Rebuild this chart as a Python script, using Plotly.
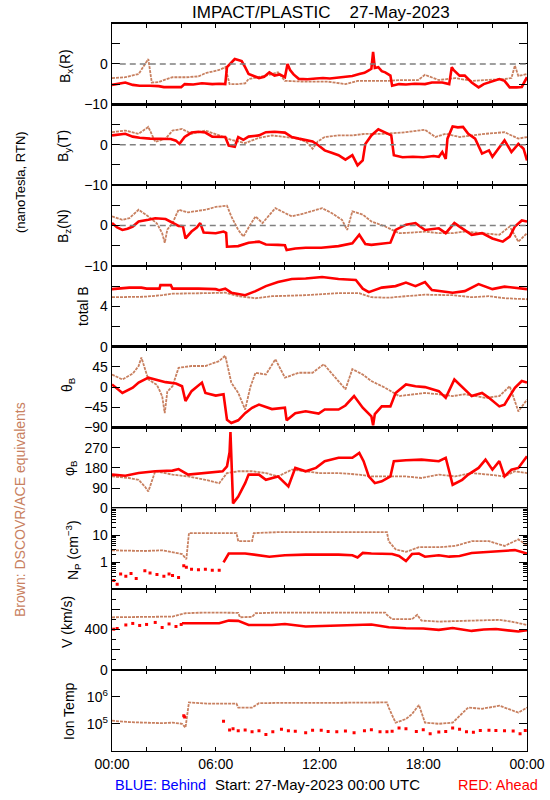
import plotly.graph_objects as go

# ---------------- data (hours since 27-May-2023 00:00 UTC, value) ----------------
BX_RED = [(0, -5.2), (0.4, -4.8), (0.77, -4.6), (1.2, -5.2), (1.6, -5.4), (2.2, -5.4), (2.7, -5.5), (3.0, -5.75),
          (3.5, -5.8), (4.0, -5.75), (4.2, -5.0), (4.7, -5.1), (5.2, -4.8), (5.8, -5.0), (6.2, -4.9), (6.55, -5.0),
          (6.65, -0.8), (6.9, 0.3), (7.1, 1.2), (7.35, 0.9), (7.5, 0.7), (7.7, -0.8), (7.9, -2.5), (8.2, -3.0),
          (8.5, -3.5), (8.8, -3.2), (9.1, -2.1), (9.4, -2.9), (9.7, -2.6), (10.0, -3.3), (10.15, 0.0), (10.3, -1.5),
          (10.5, -2.6), (10.8, -3.7), (11.3, -3.8), (11.8, -3.6), (12.2, -3.5), (12.6, -3.6), (13.1, -3.4),
          (13.5, -3.3), (13.9, -3.0), (14.3, -2.5), (14.6, -2.2), (14.8, -1.7), (15.0, -1.2), (15.1, 3.0),
          (15.2, -1.0), (15.4, -0.8), (15.6, -1.8), (15.8, -2.1), (16.1, -2.9), (16.2, -5.4), (16.6, -5.0),
          (17.0, -5.1), (17.5, -4.9), (18.1, -5.0), (18.5, -4.6), (19.1, -4.6), (19.5, -5.0), (19.65, -0.8),
          (19.75, -1.5), (20.1, -2.9), (20.4, -2.9), (20.8, -4.6), (21.2, -5.8), (21.5, -5.0), (21.8, -4.6),
          (22.1, -4.3), (22.4, -3.75), (22.7, -4.2), (23.0, -5.8), (23.4, -5.8), (23.7, -5.7), (24.0, -3.3)]
BX_BROWN = [(0, -3.5), (0.77, -3.3), (1.54, -2.5), (1.9, 0.0), (2.1, 1.2), (2.3, -4.6), (2.7, -4.5), (3.0, -4.0),
            (3.5, -3.3), (4.3, -3.3), (5.0, -3.1), (5.4, -2.3), (6.2, -1.5), (6.55, -0.8), (6.8, -5.0), (7.3, -5.0),
            (7.7, -4.8), (7.9, -3.75), (8.9, -2.9), (9.6, -2.1), (10.0, -4.2), (11.2, -4.4), (12.5, -4.4),
            (13.5, -5.0), (14.2, -4.2), (16.0, -4.2), (16.6, -4.0), (17.7, -4.0), (18.1, -2.7), (18.9, -4.0),
            (19.85, -3.5), (20.8, -4.2), (21.8, -4.0), (22.7, -3.75), (23.1, -3.5), (23.3, -0.4), (23.5, -3.0),
            (24.0, -2.5)]

BY_RED = [(0, 2.3), (0.4, 2.6), (0.77, 2.7), (1.2, 2.0), (1.6, 1.7), (2.2, 1.5), (2.8, 1.5), (3.4, 1.4), (3.7, 1.0),
          (3.9, 0.2), (4.2, 1.9), (4.6, 3.0), (5.0, 3.2), (5.4, 3.0), (5.8, 2.0), (6.2, 2.0), (6.55, 1.9),
          (6.75, -0.2), (7.1, -0.5), (7.3, 1.9), (7.6, 1.2), (7.9, 2.0), (8.5, 2.3), (8.9, 3.1), (9.4, 3.2),
          (10.0, 3.0), (10.4, 1.9), (10.8, 1.5), (11.2, 1.1), (11.6, 0.8), (11.95, -0.2), (12.3, -1.4),
          (12.7, -2.0), (13.1, -2.6), (13.5, -3.7), (13.9, -2.6), (14.2, -5.1), (14.5, -3.9), (14.65, 0.2),
          (15.0, 2.3), (15.4, 3.8), (15.8, 3.1), (16.15, 2.3), (16.3, -2.6), (16.8, -3.1), (17.4, -3.0),
          (18.0, -3.1), (18.6, -2.8), (18.9, -3.0), (19.1, -1.8), (19.3, -3.5), (19.4, 1.5), (19.7, 4.5),
          (20.0, 4.3), (20.3, 4.4), (20.6, 2.7), (21.0, 1.5), (21.4, -2.2), (21.8, -1.4), (22.0, -3.0),
          (22.4, -0.6), (22.7, 1.1), (23.1, -1.8), (23.5, 0.2), (23.8, -1.0), (24.0, -3.9)]
BY_BROWN = [(0, 3.1), (0.77, 3.5), (1.54, 2.7), (2.1, 4.4), (2.5, 0.7), (3.1, 1.5), (3.5, 3.5), (4.05, 3.9),
            (4.6, 2.7), (5.4, 3.5), (6.2, 2.3), (6.9, 1.2), (7.7, 0.4), (8.5, 1.7), (9.25, 2.3), (10.0, 1.9),
            (10.8, 1.5), (11.3, 0.5), (11.6, -1.0), (11.9, 0.8), (12.3, 1.9), (13.1, 2.3), (13.9, 2.3),
            (14.65, 2.7), (15.8, 2.7), (17.0, 3.1), (18.1, 3.7), (18.7, 1.9), (19.3, 2.7), (20.1, 1.9),
            (20.8, 2.3), (21.6, 2.7), (22.7, 3.1), (23.5, 1.5), (24.0, 1.9)]

BZ_RED = [(0, 0.6), (0.3, -0.5), (0.6, -1.1), (0.9, -0.8), (1.2, -0.25), (1.54, 1.0), (2.1, 1.4), (2.5, 1.8),
          (3.1, 1.6), (3.5, 0.75), (3.85, -0.1), (4.1, -0.2), (4.25, -3.2), (4.6, -1.5), (4.9, -0.5), (5.1, 0.6),
          (5.3, -1.75), (6.0, -1.9), (6.45, -1.5), (6.6, -1.8), (6.65, -5.25), (7.3, -5.1), (7.9, -4.25),
          (8.5, -4.0), (8.9, -4.7), (9.6, -4.8), (10.0, -4.9), (10.1, -6.1), (10.6, -5.7), (11.2, -5.5),
          (12.1, -5.5), (13.1, -5.1), (13.9, -4.4), (14.3, -2.3), (14.65, -4.6), (15.0, -4.8), (15.6, -4.4),
          (16.1, -4.25), (16.4, -1.1), (17.0, 0.2), (17.55, 0.6), (18.1, -1.1), (18.9, -0.7), (19.3, -1.9),
          (19.8, 0.6), (20.4, -1.1), (20.8, -2.3), (21.4, -1.9), (22.0, -3.2), (22.6, -4.0), (23.0, -2.75),
          (23.3, -0.25), (23.7, 1.25), (24.0, 1.0)]
BZ_BROWN = [(0, 2.25), (0.6, 1.4), (1.0, 1.8), (1.54, 3.9), (2.1, 2.25), (2.6, 0.5), (2.9, -1.9), (3.05, -4.3),
            (3.2, -1.0), (3.5, 0.6), (3.85, 3.9), (4.4, 3.25), (5.4, 3.9), (6.0, 4.6), (6.65, 4.9), (6.9, 2.25),
            (7.3, -1.1), (7.6, -2.75), (7.9, -0.5), (8.3, 2.25), (8.7, 0.6), (9.45, 4.3), (10.0, 3.1),
            (10.4, 2.25), (11.2, 3.1), (12.15, 4.3), (12.7, 3.1), (13.3, 1.4), (13.6, -1.1), (13.9, 3.5),
            (14.5, 2.7), (15.0, 1.0), (15.8, -0.25), (16.6, -1.9), (17.35, -1.75), (18.1, -1.5), (18.9, -1.9),
            (19.7, -1.9), (20.4, -1.5), (21.6, -1.9), (22.4, -2.3), (23.0, -0.25), (23.5, -4.0), (24.0, -1.9)]

BT_RED = [(0, 5.7), (1.0, 5.85), (1.7, 5.85), (2.0, 5.75), (2.75, 5.75), (2.8, 6.1), (3.4, 6.1), (3.5, 5.75),
          (5.0, 5.75), (6.0, 5.7), (6.2, 5.6), (6.55, 5.75), (6.9, 5.35), (7.7, 5.1), (8.3, 5.5), (8.9, 6.0),
          (9.6, 6.4), (10.4, 6.7), (11.2, 6.75), (12.15, 6.9), (13.1, 6.7), (14.1, 6.6), (14.5, 5.75),
          (14.85, 5.4), (15.6, 5.85), (16.4, 6.0), (17.0, 6.35), (17.55, 6.0), (18.1, 6.4), (18.5, 5.6),
          (19.7, 5.35), (20.4, 5.5), (21.2, 6.2), (22.0, 5.7), (22.7, 5.95), (24.0, 5.7)]
BT_BROWN = [(0, 4.9), (1.9, 4.95), (2.9, 5.1), (3.5, 5.25), (5.4, 5.3), (6.55, 5.35), (7.3, 5.0), (8.3, 4.8),
            (9.25, 5.0), (11.2, 5.1), (13.1, 5.3), (14.3, 5.3), (15.0, 4.9), (16.0, 4.85), (17.0, 5.0),
            (18.1, 5.15), (19.7, 5.1), (20.8, 4.9), (21.8, 5.0), (22.7, 4.8), (24.0, 4.7)]

TH_RED = [(0, 6), (0.6, -13), (1.2, -1.5), (1.54, 10), (2.1, 21), (2.5, 17), (3.1, 11), (3.7, 8), (4.05, 2),
          (4.25, -31), (4.6, -9), (5.2, 10), (5.4, -13), (6.0, -19), (6.45, -16), (6.65, -73), (6.9, -80),
          (7.3, -74), (7.7, -58), (8.1, -46), (8.5, -39), (9.25, -49), (10.0, -46), (10.1, -74), (10.6, -58),
          (11.2, -54), (11.95, -59), (12.3, -50), (13.1, -50), (13.5, -41), (14.0, -20), (14.5, -46),
          (14.85, -61), (15.0, -65), (15.1, -85), (15.2, -60), (15.6, -43), (16.1, -43), (16.4, -13), (17.0, 6),
          (17.55, 2), (18.1, 0), (18.9, -9), (19.3, -24), (19.8, 17), (20.4, -5), (20.8, -20), (21.4, -13),
          (21.8, -24), (22.4, -43), (22.7, -39), (23.0, -20), (23.3, -1.5), (23.7, 13.5), (24.0, 10)]
TH_BROWN = [(0, 28), (0.6, 17), (1.2, 30), (1.54, 47), (1.7, 66), (2.1, 17), (2.6, 5), (2.9, -20), (3.05, -58),
            (3.2, -10), (3.5, 2), (3.85, 43), (4.6, 47), (5.4, 47), (6.2, 58), (6.55, 70), (6.9, 10), (7.3, -13),
            (7.7, -50), (8.0, 0), (8.3, 32), (8.9, 28), (9.45, 62), (10.0, 21), (10.8, 32), (11.6, 32),
            (12.25, 51), (13.1, 13.5), (13.5, -5), (13.9, 40), (14.5, 28), (15.0, 13.5), (15.8, -1.5),
            (16.6, -20), (17.35, -16), (18.1, -13), (18.9, -16), (19.7, -20), (20.4, -16), (21.6, -24),
            (22.4, -20), (23.0, 2), (23.5, -54), (24.0, -28)]

PH_RED = [(0, 150), (0.77, 145), (1.54, 157), (2.5, 165), (3.5, 168), (3.85, 175), (4.4, 150), (5.4, 157),
          (6.4, 165), (6.65, 187), (6.8, 250), (6.85, 340), (6.9, 200), (7.0, 22), (7.3, 52), (7.7, 112),
          (7.9, 150), (8.5, 150), (8.9, 127), (9.6, 142), (10.2, 97), (10.6, 180), (11.2, 165), (11.8, 180),
          (12.3, 210), (13.1, 225), (13.9, 225), (14.3, 247), (14.55, 210), (14.85, 142), (15.2, 112),
          (15.6, 120), (16.1, 142), (16.3, 210), (17.0, 214), (17.9, 217), (18.9, 210), (19.3, 225), (19.5, 165),
          (19.7, 105), (20.25, 127), (20.6, 150), (21.2, 180), (21.6, 217), (22.0, 172), (22.4, 210),
          (22.7, 142), (23.1, 172), (23.5, 180), (24.0, 232)]
PH_BROWN = [(0, 142), (0.96, 135), (1.54, 127), (1.9, 97), (2.1, 75), (2.5, 165), (3.5, 150), (4.4, 142),
            (5.4, 127), (6.2, 112), (6.65, 157), (7.3, 165), (8.1, 165), (8.9, 157), (9.6, 142), (10.4, 172),
            (11.2, 165), (11.95, 157), (13.1, 157), (14.3, 150), (15.0, 142), (16.0, 142), (17.0, 142),
            (17.9, 135), (18.9, 150), (19.85, 142), (20.8, 157), (21.8, 150), (22.7, 142), (23.3, 165),
            (24.0, 157)]

NP_RED_DOTS = [(0.1, 0.21), (0.3, 0.15), (0.5, 0.36), (0.8, 0.3), (1.1, 0.38), (1.4, 0.25), (1.9, 0.48),
               (2.2, 0.4), (2.6, 0.35), (3.0, 0.3), (3.3, 0.36), (3.5, 0.32), (3.85, 0.27), (4.15, 0.74),
               (4.3, 0.65), (4.6, 0.55), (5.0, 0.52), (5.4, 0.55), (5.8, 0.5), (6.2, 0.5)]
NP_RED = [(6.45, 0.98), (6.75, 2.1), (7.7, 2.1), (8.5, 1.8), (9.1, 1.6), (10.0, 1.8), (11.2, 1.9), (13.1, 1.9),
          (13.9, 1.8), (14.2, 1.5), (14.5, 2.2), (15.0, 2.1), (16.2, 2.0), (16.6, 1.7), (17.0, 1.1), (17.35, 2.0),
          (17.75, 2.1), (18.1, 1.6), (18.9, 1.8), (19.5, 1.6), (20.1, 1.7), (20.8, 2.2), (21.8, 2.4), (22.7, 2.6),
          (23.3, 2.8), (24.0, 2.1)]
NP_BROWN = [(0, 2.75), (1.9, 2.6), (2.9, 2.75), (3.5, 2.4), (4.05, 2.0), (4.3, 1.3), (4.45, 12), (5.5, 12),
            (7.2, 12), (7.3, 6), (8.1, 6), (8.2, 12), (9.6, 13), (12.0, 13), (14.0, 13), (15.9, 13), (16.0, 6),
            (16.4, 3.0), (17.0, 2.4), (17.75, 3.6), (18.9, 3.6), (19.85, 4.0), (20.8, 6), (21.8, 6), (22.7, 4.0),
            (23.5, 7), (24.0, 4.2)]

V_RED_DOTS = [(0.1, 403), (0.3, 410), (0.8, 445), (1.2, 460), (1.6, 440), (2.0, 450), (2.5, 470), (2.9, 420),
              (3.3, 455), (3.7, 430), (4.0, 450)]
V_RED = [(4.05, 462), (5.4, 458), (6.2, 462), (6.75, 488), (7.3, 485), (7.9, 445), (9.25, 445), (10.0, 455),
         (11.2, 429), (12.15, 435), (13.1, 440), (14.3, 440), (15.0, 450), (16.0, 422), (17.0, 412), (18.0, 410),
         (18.9, 396), (19.7, 415), (20.8, 386), (21.5, 400), (22.2, 405), (23.5, 380), (24.0, 392)]
V_BROWN = [(0, 521), (1.9, 521), (3.5, 528), (4.25, 561), (5.4, 568), (7.3, 565), (7.4, 521), (8.1, 525),
           (8.3, 561), (9.6, 568), (12.0, 568), (15.8, 568), (15.9, 545), (16.2, 502), (17.35, 502), (17.65, 545),
           (17.9, 488), (18.9, 478), (20.8, 488), (22.4, 495), (23.1, 478), (24.0, 445)]

T_RED_DOTS = [(4.15, 2.0e5), (4.2, 1.8e5), (6.45, 1.23e5), (6.8, 5.9e4), (7.0, 6.5e4), (7.3, 5.5e4), (7.7, 5.9e4),
              (8.1, 5.0e4), (8.5, 5.5e4), (8.9, 4.0e4), (9.3, 5.0e4), (9.8, 6.2e4), (10.2, 5.5e4), (10.6, 5.3e4),
              (11.2, 4.6e4), (11.6, 5.7e4), (12.1, 5.8e4), (12.5, 5.2e4), (13.0, 5.1e4), (13.5, 5.4e4),
              (14.0, 4.6e4), (14.6, 5.5e4), (15.0, 6.0e4), (15.5, 5.0e4), (15.9, 5.0e4), (16.2, 5.3e4),
              (16.6, 7.0e4), (17.0, 6.5e4), (17.6, 5.2e4), (18.0, 6.0e4), (18.4, 4.3e4), (18.9, 4.9e4),
              (19.3, 5.2e4), (19.7, 7.0e4), (20.1, 6.2e4), (20.5, 5.0e4), (20.9, 4.8e4), (21.3, 5.6e4),
              (21.8, 5.8e4), (22.2, 5.6e4), (22.7, 5.5e4), (23.2, 5.4e4), (23.6, 4.3e4), (23.9, 5.6e4)]
T_BROWN = [(0, 1.3e5), (1.0, 1.15e5), (1.9, 1.1e5), (2.9, 1.05e5), (3.5, 1.1e5), (4.05, 1.0e5), (4.25, 7.2e4),
           (4.45, 6.2e5), (5.5, 5.6e5), (7.2, 5.6e5), (7.3, 4.0e5), (8.1, 4.0e5), (8.5, 5.8e5), (10.0, 6.0e5),
           (13.0, 6.0e5), (15.9, 6.2e5), (16.0, 4.0e5), (16.4, 1.1e5), (17.0, 1.5e5), (17.35, 2.3e5),
           (17.75, 5.0e5), (18.1, 1.1e5), (18.9, 1.0e5), (19.7, 1.1e5), (20.6, 4.0e5), (21.4, 3.6e5),
           (22.4, 4.7e5), (23.5, 2.6e5), (24.0, 4.0e5)]

X_TICKS = [0, 6, 12, 18, 24]
X_LABELS = ["00:00", "06:00", "12:00", "18:00", "00:00"]
X_MINOR = [2, 4, 8, 10, 14, 16, 20, 22]

# ---------------- style ----------------
W, H = 550, 800
RED = "#FF0000"
BROWN = "rgb(200,128,96)"
FONT = "Liberation Sans, Arial, sans-serif"
PL, PR = 112, 527
TOP0, PHT = 23.5, 80.8


def px(x):
    return x / W


def py(y):
    return 1 - y / H


LOGMINOR_NP = [a * b for b in (0.1, 1, 10) for a in range(2, 10)]

panels = [
    dict(red=BX_RED, brown=BX_BROWN, rng=[-10, 10], tv=[-10, -5, 0, 5, 10], tt=["−10", " ", "0", " ", " "], zero=True),
    dict(red=BY_RED, brown=BY_BROWN, rng=[-10, 10], tv=[-10, -5, 0, 5, 10], tt=["−10", " ", "0", " ", " "], zero=True),
    dict(red=BZ_RED, brown=BZ_BROWN, rng=[-10, 10], tv=[-10, -5, 0, 5, 10], tt=["−10", " ", "0", " ", " "], zero=True),
    dict(red=BT_RED, brown=BT_BROWN, rng=[0, 8], tv=[0, 2, 4, 6, 8], tt=["0", " ", "4", " ", " "]),
    dict(red=TH_RED, brown=TH_BROWN, rng=[-90, 90], tv=[-90, -45, 0, 45, 90], tt=["−90", "−45", "0", "45", " "]),
    dict(red=PH_RED, brown=PH_BROWN, rng=[0, 360], tv=[0, 90, 180, 270, 360], tt=["0", "90", "180", "270", " "]),
    dict(red=NP_RED, reddots=NP_RED_DOTS, brown=NP_BROWN, rng=[-1, 2], log=True, tv=[1, 10], tt=["1", "10"],
         minor=LOGMINOR_NP),
    dict(red=V_RED, reddots=V_RED_DOTS, brown=V_BROWN, rng=[0, 800], tv=[0, 200, 400, 600, 800],
         tt=["0", " ", "400", " ", " "], minor=[100, 300, 500, 700]),
    dict(red=None, reddots=T_RED_DOTS, brown=T_BROWN, rng=[4, 7], log=True, tv=[1e5, 1e6],
         tt=["10<sup>5</sup>", "10<sup>6</sup>"]),
]

fig = go.Figure()
layout = dict(width=W, height=H, autosize=False,
              margin=dict(l=0, r=0, t=0, b=0, pad=0, autoexpand=False),
              paper_bgcolor="white", plot_bgcolor="white", showlegend=False,
              font=dict(family=FONT, size=14, color="black"))
shapes = []


def unz(pairs):
    return [a for a, _ in pairs], [b for _, b in pairs]


for i, p in enumerate(panels):
    n = i + 1
    xa = "x" if n == 1 else f"x{n}"
    ya = "y" if n == 1 else f"y{n}"
    top = TOP0 + i * PHT
    bot = top + PHT

    bt, bv = unz(p["brown"])
    fig.add_trace(go.Scatter(x=bt, y=bv, mode="lines", line=dict(color=BROWN, width=1.8, dash="3px,1px"),
                             xaxis=xa, yaxis=ya, hoverinfo="skip"))
    if p.get("reddots"):
        rt, rv = unz(p["reddots"])
        fig.add_trace(go.Scatter(x=rt, y=rv, mode="markers",
                                 marker=dict(color=RED, size=3, symbol="square", line=dict(width=0)),
                                 xaxis=xa, yaxis=ya, hoverinfo="skip"))
    if p.get("red"):
        rt, rv = unz(p["red"])
        fig.add_trace(go.Scatter(x=rt, y=rv, mode="lines", line=dict(color=RED, width=2.6),
                                 xaxis=xa, yaxis=ya, hoverinfo="skip"))

    xkey = "xaxis" if n == 1 else f"xaxis{n}"
    ykey = "yaxis" if n == 1 else f"yaxis{n}"
    layout[xkey] = dict(domain=[px(PL), px(PR)], anchor=ya, range=[0, 24], tickmode="array",
                        tickvals=X_TICKS, ticktext=X_LABELS, showticklabels=(n == 9),
                        ticks="inside", ticklen=4, tickwidth=1, tickcolor="black",
                        minor=dict(tickvals=X_MINOR, ticks="inside", ticklen=4, tickcolor="black", showgrid=False),
                        showline=True, linecolor="black", linewidth=1.3, mirror="ticks",
                        showgrid=False, zeroline=False, fixedrange=True, automargin=False,
                        tickfont=dict(size=14, family=FONT))
    ydict = dict(domain=[py(bot), py(top)], anchor=xa, range=p["rng"], tickmode="array",
                 tickvals=p["tv"], ticktext=p["tt"], ticks="inside", ticklen=8, tickwidth=1,
                 tickcolor="black", showline=True, linecolor="black", linewidth=1.3, mirror="ticks",
                 showgrid=False, zeroline=False, fixedrange=True, automargin=False,
                 tickfont=dict(size=14, family=FONT))
    if p.get("log"):
        ydict["type"] = "log"
    if p.get("minor"):
        ydict["minor"] = dict(tickvals=p["minor"], ticks="inside", ticklen=4, tickcolor="black", showgrid=False)
    layout[ykey] = ydict
    if p.get("zero"):
        shapes.append(dict(type="line", xref=xa, yref=ya, x0=0.45, x1=24, y0=0, y1=0,
                           line=dict(color="gray", width=1.5, dash="6px,4px")))

layout["shapes"] = shapes

ann = []


def txt(text, x, y, size=14, color="black", angle=0, xanchor="center"):
    ann.append(dict(text=text, x=px(x), y=py(y), xref="paper", yref="paper", showarrow=False,
                    font=dict(size=size, color=color, family=FONT), textangle=angle,
                    xanchor=xanchor, yanchor="middle"))


txt("IMPACT/PLASTIC\u00a0\u00a0\u00a0\u00a027-May-2023", 321, 12, size=17)
ytitles = [("B<sub>x</sub>(R)", 66, 66), ("B<sub>y</sub>(T)", 64, 146), ("B<sub>z</sub>(N)", 64, 226),
           ("total B", 83, 306), ("θ<sub>B</sub>", 68, 385), ("φ<sub>B</sub>", 70, 468),
           ("N<sub>P</sub> (cm<sup>−3</sup>)", 73, 550), ("V (km/s)", 67, 622), ("Ion Temp", 69, 711)]
for t, x, y in ytitles:
    txt(t, x, y, size=14, angle=-90)
txt("(nanoTesla, RTN)", 20, 182, size=13, angle=-90)
txt("Brown: DSCOVR/ACE equivalents", 20, 510, size=14, color=BROWN, angle=-90)
txt("BLUE: Behind", 113, 785, size=14.5, color="#0000FF", xanchor="left")
txt("Start: 27-May-2023 00:00 UTC", 213, 784, size=15, xanchor="left")
txt("RED: Ahead", 456, 785, size=14.5, color=RED, xanchor="left")
layout["annotations"] = ann

fig.update_layout(**layout)
fig.write_html("out.html", config={"displayModeBar": False, "staticPlot": True},
               post_script="document.body.style.margin='0';document.body.style.padding='0';"
                           "document.body.style.overflow='hidden';")
